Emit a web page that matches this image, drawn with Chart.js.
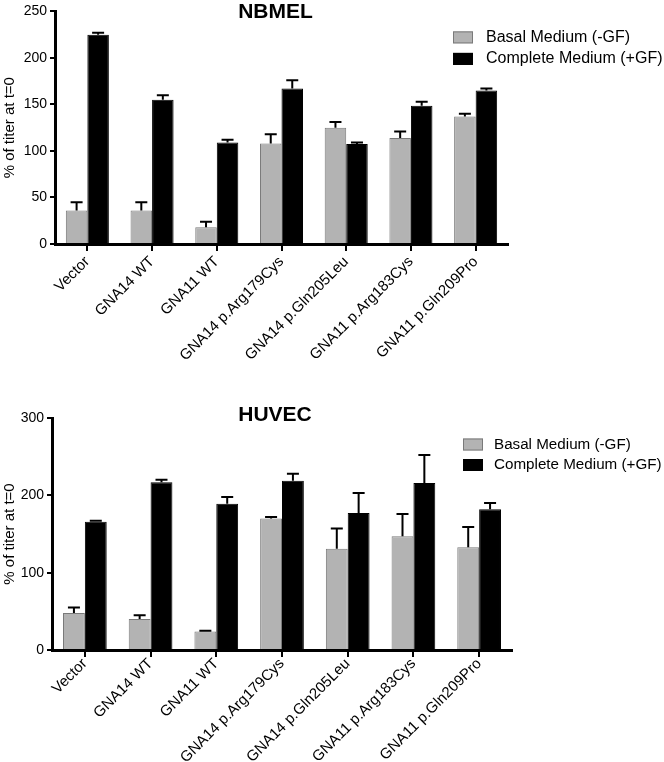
<!DOCTYPE html>
<html>
<head>
<meta charset="utf-8">
<script src="https://cdn.jsdelivr.net/npm/chart.js@4.4.1/dist/chart.umd.min.js"></script>
<style>
  html, body { margin: 0; padding: 0; background: #fff; }
  #wrap { position: relative; width: 664px; height: 762px; }
  canvas { position: absolute; left: 0; }
</style>
</head>
<body>
<div id="wrap">
  <canvas id="nbmelChart" width="664" height="375" style="top:0"></canvas>
  <canvas id="huvecChart" width="664" height="382" style="top:380px"></canvas>
</div>
<script>
// Données
const categories = ['Vector', 'GNA14 WT', 'GNA11 WT', 'GNA14 p.Arg179Cys',
                    'GNA14 p.Gln205Leu', 'GNA11 p.Arg183Cys', 'GNA11 p.Gln209Pro'];
const seriesNames = ['Basal Medium (-GF)', 'Complete Medium (+GF)'];

const nbmelBasal = [36, 36, 18, 108, 125, 114, 137];
const nbmelBasalErr = [9, 9, 6, 10, 6, 7, 3];
const nbmelComplete = [225, 155, 109, 167, 107.5, 148.5, 165];
const nbmelCompleteErr = [2, 5, 3, 9, 1.5, 4.5, 2];

const huvecBasal = [48, 40, 24, 170, 131, 147, 133];
const huvecBasalErr = [7, 5, 1, 2, 26, 29, 26];
const huvecComplete = [166, 217, 189, 219, 177, 216, 182];
const huvecCompleteErr = [1, 3, 9, 9, 26, 36, 8];

const nbmelTicks = [0, 50, 100, 150, 200, 250];
const huvecTicks = [0, 100, 200, 300];

Chart.defaults.font.family = '"Liberation Sans", Arial, Helvetica, sans-serif';
Chart.defaults.color = '#000';

// Barres d'erreur (SEM, vers le haut seulement)
const errorBars = {
    id: 'errorBars',
    afterDatasetsDraw(chart) {
        const ctx = chart.ctx;
        const yScale = chart.scales.y;
        ctx.save();
        ctx.strokeStyle = '#000';
        ctx.lineWidth = 2;
        chart.data.datasets.forEach((ds, di) => {
            chart.getDatasetMeta(di).data.forEach((bar, i) => {
                const top = yScale.getPixelForValue(ds.data[i] + ds.errors[i]);
                ctx.beginPath();
                ctx.moveTo(bar.x, bar.y);
                ctx.lineTo(bar.x, top);
                ctx.moveTo(bar.x - 6, top);
                ctx.lineTo(bar.x + 6, top);
                ctx.stroke();
            });
        });
        ctx.restore();
    }
};

// Titre + légende dessinés dans la zone du graphique
const panelDecor = {
    id: 'panelDecor',
    afterDraw(chart, args, opts) {
        const ctx = chart.ctx;
        const area = chart.chartArea;
        ctx.save();
        ctx.fillStyle = '#000';
        ctx.font = 'bold 21px "Liberation Sans", Arial, sans-serif';
        ctx.textAlign = 'center';
        ctx.textBaseline = 'middle';
        ctx.fillText(opts.title, (area.left + area.right) / 2 + opts.titleDx, area.top + opts.titleDy);

        ctx.font = opts.legendFont + 'px "Liberation Sans", Arial, sans-serif';
        ctx.textAlign = 'left';
        chart.data.datasets.forEach((ds, i) => {
            const x = area.right + opts.legendDx;
            const y = area.top + opts.legendDy + i * opts.legendGap;
            ctx.fillStyle = ds.backgroundColor;
            ctx.fillRect(x, y - 6, 20, 12);
            ctx.strokeStyle = ds.borderColor;
            ctx.lineWidth = 1;
            ctx.strokeRect(x + 0.5, y - 5.5, 19, 11);
            ctx.fillStyle = '#000';
            ctx.fillText(ds.label, x + opts.textDx, y);
        });
        ctx.restore();
    }
};

function buildChart(id, title, basal, basalErr, complete, completeErr, ticks, layout, decor) {
    const ctx = document.getElementById(id).getContext('2d');
    return new Chart(ctx, {
        type: 'bar',
        data: {
            labels: categories,
            datasets: [{
                label: seriesNames[0],
                data: basal,
                errors: basalErr,
                backgroundColor: '#b3b3b3',
                borderColor: '#7a7a7a',
                borderWidth: 1
            }, {
                label: seriesNames[1],
                data: complete,
                errors: completeErr,
                backgroundColor: '#000',
                borderColor: '#000',
                borderWidth: 1
            }]
        },
        options: {
            responsive: false,
            animation: false,
            layout: { padding: layout.padding },
            datasets: { bar: { categoryPercentage: 0.665, barPercentage: 1.0 } },
            plugins: {
                legend: { display: false },
                tooltip: { enabled: false },
                panelDecor: Object.assign({ title: title }, decor)
            },
            scales: {
                x: {
                    offset: true,
                    grid: { offset: false, drawOnChartArea: false, color: '#000', lineWidth: 2, tickLength: 7 },
                    border: { color: '#000', width: 3 },
                    ticks: { font: { size: 15 }, minRotation: 45, maxRotation: 45, autoSkip: false, padding: layout.xPad },
                    afterFit: scale => { scale.height = layout.xHeight; }
                },
                y: {
                    min: 0,
                    max: ticks[ticks.length - 1],
                    afterBuildTicks: scale => { scale.ticks = ticks.map(v => ({ value: v })); },
                    grid: { drawOnChartArea: false, color: '#000', lineWidth: 2, tickLength: 5 },
                    border: { color: '#000', width: 3 },
                    ticks: { font: { size: 14 }, padding: 3 },
                    title: { display: true, text: '% of titer at t=0', font: { size: 15 }, padding: { top: 1, bottom: 0 } },
                    afterFit: scale => { scale.width = layout.yWidth; }
                }
            }
        },
        plugins: [errorBars, panelDecor]
    });
}

document.addEventListener('DOMContentLoaded', function() {
    buildChart('nbmelChart', 'NBMEL', nbmelBasal, nbmelBasalErr, nbmelComplete, nbmelCompleteErr, nbmelTicks,
        { padding: { left: 0, top: 11, right: 156, bottom: 0 }, yWidth: 55, xHeight: 131, xPad: 2 },
        { titleDx: -6, titleDy: 1, legendDx: -55, legendDy: 26, legendGap: 21.5, legendFont: 16, textDx: 33 });
    buildChart('huvecChart', 'HUVEC', huvecBasal, huvecBasalErr, huvecComplete, huvecCompleteErr, huvecTicks,
        { padding: { left: 0, top: 38, right: 152, bottom: 0 }, yWidth: 52, xHeight: 112, xPad: -2 },
        { titleDx: -7, titleDy: -3, legendDx: -49, legendDy: 26.5, legendGap: 20.5, legendFont: 15.2, textDx: 31 });
});
</script>
</body>
</html>
